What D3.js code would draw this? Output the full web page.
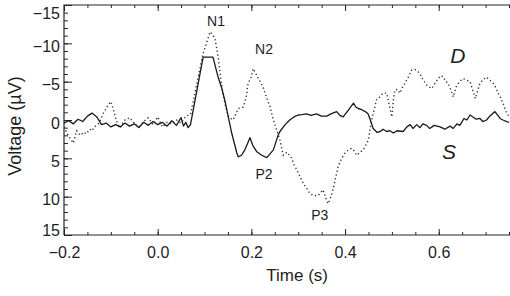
<!DOCTYPE html>
<html><head><meta charset="utf-8">
<script src="https://cdn.jsdelivr.net/npm/d3@7"></script>
<style>
body{margin:0;background:#fff}
svg{display:block}
text{font-family:"Liberation Sans",Arial,Helvetica,sans-serif;fill:#1e1e1e}
</style>
</head><body>
<svg id="chart" width="510" height="296"></svg>
<script>
// ---- data (time in s, voltage in µV; positive voltage plotted downward) ----
const timeS = [-0.20,-0.19,-0.18,-0.17,-0.16,-0.15,-0.14,-0.13,-0.12,-0.11,-0.10,-0.09,-0.08,-0.07,-0.06,-0.05,-0.04,-0.03,-0.02,-0.01,0.00,0.01,0.02,0.03,0.04,0.05,0.055,0.06,0.065,0.07,
  0.097,0.118,0.129,0.137,0.144,0.158,0.169,0.172,0.179,0.186,0.197,0.203,0.211,0.222,0.233,0.247,0.257,0.261,0.272,0.282,0.291,0.300,0.308,0.318,0.327,0.339,0.349,0.361,0.370,0.382,0.389,0.396,0.407,0.418,0.423,0.428,0.434,0.443,0.449,0.453,0.460,0.468,0.475,0.481,0.489,0.496,0.503,0.511,0.524,0.532,0.539,0.545,0.553,0.560,0.566,0.574,0.581,0.590,0.603,0.613,0.624,0.631,0.639,0.645,0.654,0.660,0.667,0.673,0.680,0.688,0.694,0.702,0.709,0.720,0.731,0.737,0.745,0.75];
const voltS = [0.4,0.1,0.5,-0.1,0.2,-0.5,-0.9,-0.4,0.6,0.4,0.9,0.6,0.9,0.4,0.8,0.5,1.0,0.3,0.7,0.2,0.6,0.3,0.8,0.1,0.7,-0.3,0.8,0.3,1.0,0.6,
  -8.2,-8.2,-5.6,-4.1,-2.4,1.7,4.3,4.8,4.6,3.9,2.3,3.3,4.1,4.6,4.9,3.9,2.0,1.5,0.6,0.0,-0.4,-0.65,-0.7,-0.8,-0.6,-0.8,-0.5,-0.5,-0.8,-1.1,-0.6,-0.4,-1.3,-2.2,-1.7,-1.5,-1.4,-1.1,-0.8,-0.2,1.1,1.6,1.5,1.2,1.5,1.4,1.7,1.4,1.5,0.9,0.6,1.1,0.6,1.0,0.5,0.7,1.1,0.7,0.9,1.2,0.8,1.1,0.5,0.7,-0.2,0.0,-0.65,-0.4,-0.1,-0.2,0.2,0.0,-0.5,-1.1,-0.2,0.0,0.2,0.3];

const timeD = [-0.20,-0.193,-0.187,-0.18,-0.173,-0.165,-0.158,-0.152,-0.145,-0.14,-0.135,-0.13,-0.125,-0.12,-0.115,-0.11,-0.105,-0.10,-0.095,-0.09,-0.085,-0.08,-0.075,-0.07,-0.06,-0.05,-0.04,-0.03,-0.02,-0.01,0.00,0.01,0.02,0.03,0.04,0.05,0.06,0.07,
  0.097,0.112,0.122,0.129,0.137,0.144,0.151,0.161,0.167,0.172,0.183,0.189,0.193,0.199,0.204,0.210,0.215,0.221,0.226,0.233,0.240,0.246,0.254,0.261,0.268,0.276,0.286,0.291,0.297,0.304,0.311,0.319,0.325,0.334,0.343,0.349,0.353,0.359,0.364,0.370,0.375,0.380,0.385,0.393,0.400,0.407,0.414,0.419,0.425,0.432,0.439,0.445,0.450,0.453,0.457,0.462,0.467,0.474,0.481,0.489,0.494,0.500,0.503,0.506,0.512,0.517,0.522,0.528,0.535,0.542,0.549,0.556,0.562,0.567,0.575,0.585,0.592,0.599,0.605,0.610,0.615,0.620,0.626,0.631,0.637,0.642,0.648,0.652,0.660,0.667,0.672,0.678,0.683,0.688,0.694,0.702,0.709,0.716,0.722,0.727,0.733,0.737,0.745,0.75];
const voltD = [0.9,1.8,2.4,3.0,1.4,2.0,1.6,1.8,1.2,1.4,0.9,0.7,0.4,-0.3,-1.0,-1.5,-2.0,-2.4,-1.5,-0.3,0.6,1.0,0.4,0.0,-0.3,0.4,0.9,0.2,-0.3,0.6,-0.4,0.9,0.3,0.5,0.0,0.4,-0.5,-0.7,
  -8.7,-11.5,-10.7,-8.3,-4.3,-2.0,-0.4,0.0,-0.8,-1.5,-1.7,-3.0,-4.8,-5.5,-6.7,-6.0,-5.4,-4.8,-4.1,-2.8,-1.7,-0.2,1.3,2.6,4.6,4.2,5.0,5.8,6.5,7.4,8.3,9.0,9.6,9.9,9.8,9.4,9.1,10.2,10.9,10.0,8.9,7.5,6.1,5.0,4.3,3.9,3.7,4.0,4.6,4.2,3.9,3.2,2.6,1.3,0.0,-1.3,-2.6,-3.0,-3.5,-3.5,-2.0,-0.4,-2.5,-3.9,-4.0,-3.5,-4.2,-4.8,-5.6,-6.5,-6.6,-6.3,-5.8,-5.2,-4.5,-4.1,-4.8,-5.4,-5.8,-5.6,-5.0,-4.8,-3.9,-3.0,-4.3,-4.8,-5.2,-5.4,-5.2,-5.0,-4.0,-2.8,-3.8,-4.8,-5.2,-5.6,-5.2,-4.8,-4.2,-3.5,-2.8,-2.2,-0.9,-0.5];

const xMajorTicks = [-0.2, 0.0, 0.2, 0.4, 0.6];
const yMajorTicks = [-15, -10, -5, 0, 5, 10, 15];
const peakNames = ["N1", "N2", "P2", "P3"];
const peakTimes = [0.1245, 0.227, 0.227, 0.346];
const peakVolts = [-12.26, -8.6, 7.7, 13.04];
const seriesNames = ["D", "S"];
const seriesLabelTimes = [0.641, 0.622];
const seriesLabelVolts = [-7.43, 5.09];

// ---- drawing ----
const svg = d3.select("#chart");
const L = 64, R = 509, T = 5, B = 235;
const x = d3.scaleLinear().domain([-0.2, 0.75]).range([L, R]);
const y = d3.scaleLinear().domain([-15, 15]).range([T, B]);
const ink = "#262626";

// minor ticks
const xMinor = d3.range(-0.2, 0.751, 0.05).map(v => +v.toFixed(2));
const yMinor = d3.range(-15, 15.01, 1);

function styleAxis(g){ g.select(".domain").remove(); g.selectAll("line").attr("stroke", ink).attr("stroke-width", 1); }

svg.append("g").attr("transform", `translate(0,${B})`)
  .call(d3.axisBottom(x).tickValues(xMinor).tickSize(-3).tickFormat("")).call(styleAxis);
svg.append("g").attr("transform", `translate(0,${T})`)
  .call(d3.axisTop(x).tickValues(xMinor).tickSize(-3).tickFormat("")).call(styleAxis);
svg.append("g").attr("transform", `translate(${L},0)`)
  .call(d3.axisLeft(y).tickValues(yMinor).tickSize(-4).tickFormat("")).call(styleAxis);

const xAx = svg.append("g").attr("transform", `translate(0,${B})`)
  .call(d3.axisBottom(x).tickValues(xMajorTicks).tickSize(-6).tickPadding(11.5).tickFormat(d3.format(".1f")));
styleAxis(xAx);
xAx.selectAll("text").attr("font-size", 16).attr("fill", "#1e1e1e").attr("font-family", "'Liberation Sans',Arial,sans-serif");

svg.append("g").attr("transform", `translate(0,${T})`)
  .call(d3.axisTop(x).tickValues(xMajorTicks).tickSize(-6).tickFormat("")).call(styleAxis);

const yAx = svg.append("g").attr("transform", `translate(${L},0)`)
  .call(d3.axisLeft(y).tickValues(yMajorTicks).tickSize(-8).tickPadding(4).tickFormat(d3.format("d")));
styleAxis(yAx);
yAx.selectAll("text").attr("font-size", 16).attr("fill", "#1e1e1e").attr("font-family", "'Liberation Sans',Arial,sans-serif")
  .attr("dy", d => d === -15 ? "0.85em" : d === 15 ? "0.0em" : "0.5em");

// frame
svg.append("path").attr("d", `M${L},${B}V${T}H510M${L},${B}H510`).attr("fill", "none").attr("stroke", ink).attr("stroke-width", 1.2);

// series
const line = d3.line().x(d => x(d[0])).y(d => y(d[1])).curve(d3.curveLinear);
const dataS = timeS.map((t, i) => [t, voltS[i]]);
const dataD = timeD.map((t, i) => [t, voltD[i]]);

svg.append("defs").append("clipPath").attr("id", "clip").append("rect")
  .attr("x", L).attr("y", T).attr("width", 510 - L).attr("height", B - T);

svg.append("path").datum(dataD).attr("d", line).attr("clip-path", "url(#clip)")
  .attr("fill", "none").attr("stroke", "#333").attr("stroke-width", 1.4).attr("stroke-dasharray", "1.3,2.6");
svg.append("path").datum(dataS).attr("d", line).attr("clip-path", "url(#clip)")
  .attr("fill", "none").attr("stroke", "#1a1a1a").attr("stroke-width", 1.3).attr("stroke-linejoin", "round");

// peak labels
svg.append("g").selectAll("text").data(peakNames).join("text")
  .attr("x", (d, i) => x(peakTimes[i])).attr("y", (d, i) => y(peakVolts[i]))
  .attr("text-anchor", "middle").attr("font-size", 14).text(d => d);

// series labels
svg.append("g").selectAll("text").data(seriesNames).join("text")
  .attr("x", (d, i) => x(seriesLabelTimes[i])).attr("y", (d, i) => y(seriesLabelVolts[i]))
  .attr("text-anchor", "middle").attr("font-size", 21).attr("font-style", "italic")
  .attr("font-family", "'Liberation Serif','Times New Roman',serif").attr("fill", "#141428").text(d => d);

// axis titles
svg.append("text").attr("x", (x(0.2) + x(0.4)) / 2 - 1).attr("y", 281).attr("text-anchor", "middle")
  .attr("font-size", 17).text("Time (s)");
svg.append("text").attr("transform", `translate(21,${(T + B) / 2 + 6}) rotate(-90)`).attr("text-anchor", "middle")
  .attr("font-size", 18).text("Voltage (\u00b5V)");
</script>
</body></html>
